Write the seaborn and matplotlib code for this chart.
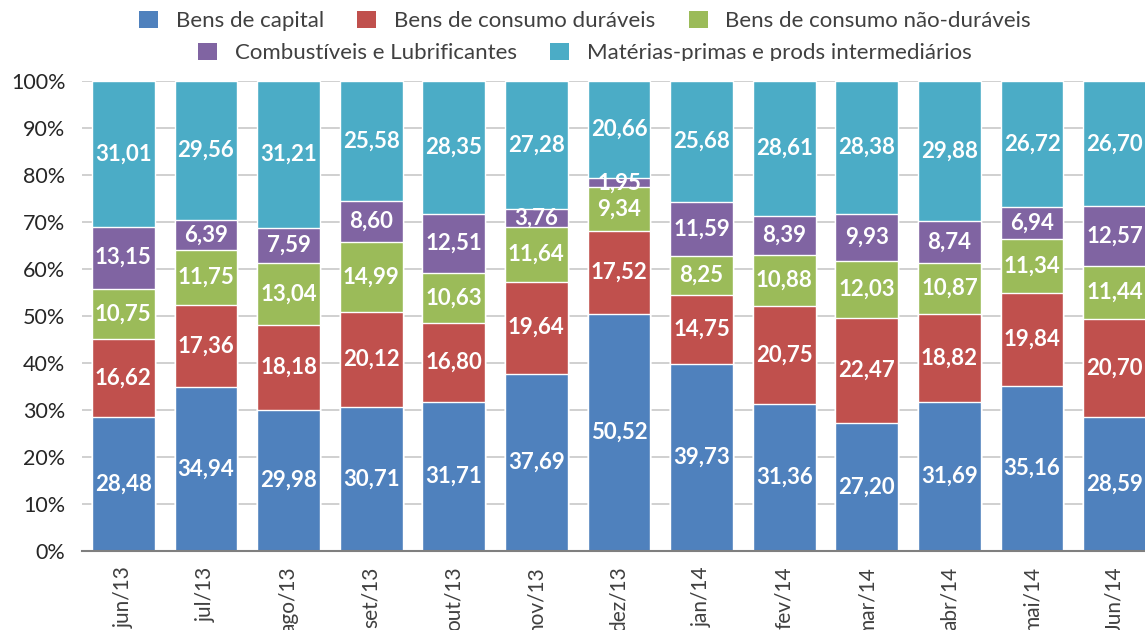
import numpy as np
import pandas as pd
import matplotlib
matplotlib.use('Agg')
import matplotlib.pyplot as plt
import seaborn as sns
from matplotlib.patches import Patch, Rectangle

months = ['jun/13', 'jul/13', 'ago/13', 'set/13', 'out/13', 'nov/13', 'dez/13',
          'jan/14', 'fev/14', 'mar/14', 'abr/14', 'mai/14', 'Jun/14']
series = ['Bens de capital', 'Bens de consumo duráveis', 'Bens de consumo não-duráveis',
          'Combustíveis e Lubrificantes', 'Matérias-primas e prods intermediários']

capital = [28.48, 34.94, 29.98, 30.71, 31.71, 37.69, 50.52, 39.73, 31.36, 27.20, 31.69, 35.16, 28.59]
duraveis = [16.62, 17.36, 18.18, 20.12, 16.80, 19.64, 17.52, 14.75, 20.75, 22.47, 18.82, 19.84, 20.70]
nao_duraveis = [10.75, 11.75, 13.04, 14.99, 10.63, 11.64, 9.34, 8.25, 10.88, 12.03, 10.87, 11.34, 11.44]
combustiveis = [13.15, 6.39, 7.59, 8.60, 12.51, 3.76, 1.95, 11.59, 8.39, 9.93, 8.74, 6.94, 12.57]
materias = [31.01, 29.56, 31.21, 25.58, 28.35, 27.28, 20.66, 25.68, 28.61, 28.38, 29.88, 26.72, 26.70]

colors = ['#4F81BD', '#C0504D', '#9BBB59', '#8064A2', '#4BACC6']

sns.set_style('white')
plt.rcParams['font.family'] = ['Lato', 'DejaVu Sans']

df = pd.DataFrame({'mes': months})
for name, vals in zip(series, [capital, duraveis, nao_duraveis, combustiveis, materias]):
    df[name] = vals
cum = df[series].cumsum(axis=1)
bottoms = cum - df[series]

fig = plt.figure(figsize=(11.45, 6.3), dpi=100)
ax = fig.add_axes([82 / 1145, 79 / 630, (1156 - 82) / 1145, 470 / 630])

# stacked bars: draw cumulative totals from top layer down
for name, col in reversed(list(zip(series, colors))):
    sns.barplot(x=df['mes'], y=np.minimum(cum[name], 100), color=col, width=0.76,
                saturation=1, ax=ax, zorder=3)

# data labels
for name in series:
    for i in range(len(months)):
        v = df.loc[i, name]
        y = bottoms.loc[i, name] + v / 2
        ax.text(i, y, f'{v:.2f}'.replace('.', ','), ha='center', va='center',
                color='white', fontsize=16, fontweight='bold', zorder=5)

ax.set_ylim(0, 100)
ax.set_xlim(-0.5, len(months) - 0.5)
ax.set_yticks(np.arange(0, 101, 10))
ax.set_yticklabels([f'{t}%' for t in range(0, 101, 10)], fontsize=15.5, color='#262626')
ax.yaxis.grid(True, color='#c8c8c8', linewidth=1.2, zorder=0)
ax.set_axisbelow(True)
ax.tick_params(axis='y', length=0, pad=12)

ax.set_xticks(range(len(months)))
ax.set_xticklabels(months, rotation=90, fontsize=15, color='#404040', va='top')
ax.set_xticks(np.arange(-0.5, len(months), 1), minor=True)
ax.tick_params(axis='x', which='major', length=0, pad=11)
ax.tick_params(axis='x', which='minor', length=6, width=1.5, color='#7f7f7f', direction='out')
ax.set_xlabel('')
ax.set_ylabel('')

for s in ['top', 'right', 'left']:
    ax.spines[s].set_visible(False)
ax.spines['bottom'].set_color('#7f7f7f')
ax.spines['bottom'].set_linewidth(1.5)
ax.spines['bottom'].set_zorder(6)

handles = [Patch(facecolor=c, edgecolor='none') for c in colors]
leg_kw = dict(frameon=False, fontsize=16, handlelength=0.85, handleheight=0.85,
              handletextpad=0.8, columnspacing=1.5, labelcolor='#404040', borderpad=0)
leg1 = fig.legend(handles[:3], series[:3], ncol=3, loc='center',
                  bbox_to_anchor=(0.511, 1 - 21 / 630), **leg_kw)
leg2 = fig.legend(handles[3:], series[3:], ncol=2, loc='center',
                  bbox_to_anchor=(0.511, 1 - 53 / 630), **leg_kw)

# the second legend row is clipped at the bottom in the original
fig.patches.append(Rectangle((0, 1 - 71 / 630), 1, 10 / 630,
                             transform=fig.transFigure, facecolor='white',
                             edgecolor='none', zorder=10))

fig.savefig('out.png', dpi=100)
